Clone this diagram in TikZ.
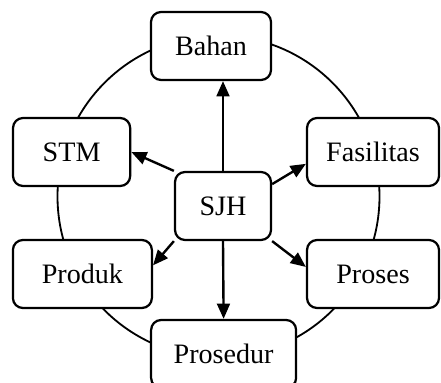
\documentclass[tikz,border=0pt]{standalone}
\usepackage{fontspec}
\setmainfont{Liberation Serif}
\usetikzlibrary{arrows.meta}
\begin{document}
\begin{tikzpicture}[scale=1.0,
        box/.style={draw, line width=1.6pt, rounded corners=0.25cm, fill=white, minimum height=1.7cm, font=\fontsize{20}{24}\selectfont},
        link/.style={line width=1.7pt, -{Triangle[length=0.38cm, width=0.32cm]}}
    ]
        \useasboundingbox (0,0) rectangle (11.025,9.55);
        % Ring behind the boxes
        \draw[line width=1.3pt] (5.4625,4.6375) circle (4.025cm);

        % Boxes on the ring
        \node[box, minimum width=3.0cm] (bahan) at (5.275,8.4) {Bahan};
        \node[box, minimum width=2.93cm] (stm) at (1.79,5.75) {STM};
        \node[box, minimum width=3.3cm] (fasilitas) at (9.325,5.75) {Fasilitas};
        \node[box, minimum width=3.475cm] (produk) at (2.06,2.7) {Produk};
        \node[box, minimum width=3.3cm] (proses) at (9.325,2.7) {Proses};
        \node[box, minimum width=3.625cm] (prosedur) at (5.59,0.7) {Prosedur};

        % Centre box
        \node[box, minimum width=2.4cm] (sjh) at (5.575,4.4) {SJH};

        % Arrows from the centre
        \draw[link] (sjh.north) -- (sjh.north |- bahan.south);
        \draw[link] (sjh.north west) -- (stm.east);
        \draw[link] (sjh.24) -- (fasilitas.190);
        \draw[link] (sjh.south west) -- (produk.7);
        \draw[link] (sjh.south east) -- (proses.174);
        \draw[link] (sjh.south) -- (prosedur.north);
    \end{tikzpicture}
\end{document}
